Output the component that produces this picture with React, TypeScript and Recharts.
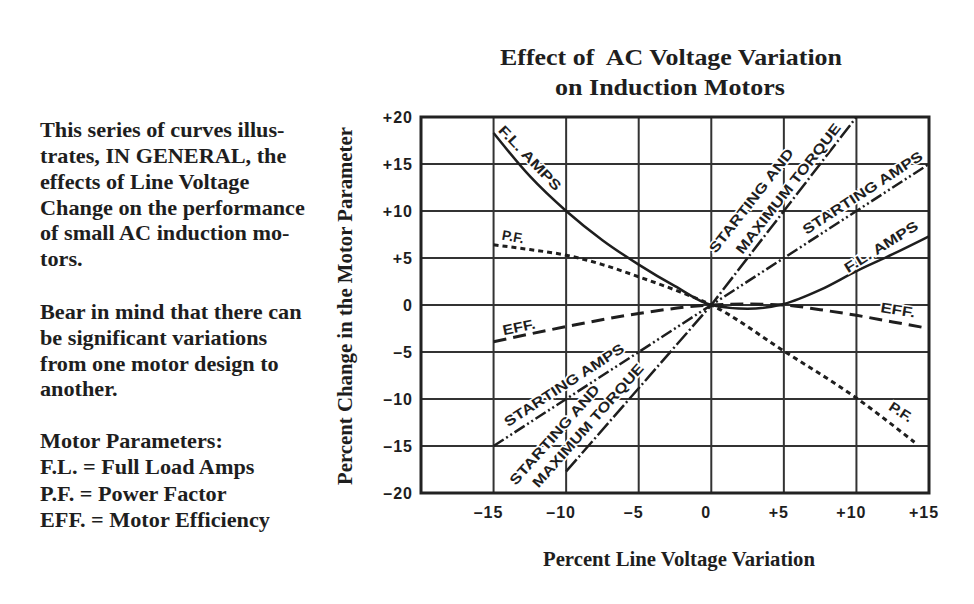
import React from "react";
import {
  LineChart,
  Line,
  XAxis,
  YAxis,
  CartesianGrid,
  ReferenceArea,
  ReferenceDot,
} from "recharts";

// axis ticks
const xTickValues = [-20, -15, -10, -5, 0, 5, 10, 15];
const xTickLabels = ["", "–15", "–10", "–5", "0", "+5", "+10", "+15"];
const yTickValues = [-20, -15, -10, -5, 0, 5, 10, 15, 20];
const yTickLabels = ["–20", "–15", "–10", "–5", "0", "+5", "+10", "+15", "+20"];

// curves: percent line voltage variation -> percent change in parameter
const flAmpsVolts = [-15, -12.5, -10, -7.5, -5, -2.5, 0, 2.5, 5, 7.5, 10, 12.5, 15];
const flAmpsChange = [18.3, 13.7, 10, 6.9, 4.3, 2.0, 0, -0.4, 0.1, 1.6, 3.6, 5.4, 7.3];

const pfVolts = [-15, -12.5, -10, -7.5, -5, -2.5, 0, 5, 10, 14];
const pfChange = [6.4, 5.9, 5.3, 4.3, 3.0, 1.6, 0, -4.9, -9.9, -14.6];

const effVolts = [-15, -10, -5, 0, 2.5, 5, 7.5, 10, 12.5, 15];
const effChange = [-3.9, -2.3, -0.9, 0, 0.1, 0, -0.5, -1.1, -1.8, -2.5];

const startAmpsVolts = [-15, 0, 15];
const startAmpsChange = [-15, 0, 15];

const torqueVolts = [-10, 0, 10];
const torqueChange = [-17.7, 0, 20];

// text blocks
const titleLines = ["Effect of  AC Voltage Variation", "on Induction Motors"];
const introLines = [
  "This series of curves illus-",
  "trates, IN GENERAL, the",
  "effects of Line Voltage",
  "Change on the performance",
  "of small AC induction mo-",
  "tors.",
];
const cautionLines = [
  "Bear in mind that there can",
  "be significant variations",
  "from one motor design to",
  "another.",
];
const paramLines = [
  "Motor Parameters:",
  "F.L. = Full Load Amps",
  "P.F. = Power Factor",
  "EFF. = Motor Efficiency",
];

// labels written along the curves (placed in data units)
const curveLabels = [
  { x: -12.49, y: 15.64, text: "F.L. AMPS", angle: 46.5, len: 84 },
  { x: -13.66, y: 7.27, text: "P.F.", angle: 10, len: 22 },
  { x: -13.25, y: -2.34, text: "EFF.", angle: -12, len: 33 },
  { x: -10.15, y: -8.5, text: "STARTING AMPS", angle: -33, len: 140 },
  { x: -10.8, y: -13.8, text: "STARTING AND", angle: -48.5, len: 128 },
  { x: -8.5, y: -12.8, text: "MAXIMUM TORQUE", angle: -48.5, len: 160 },
  { x: 2.75, y: 11.1, text: "STARTING AND", angle: -52, len: 128 },
  { x: 5.3, y: 12.4, text: "MAXIMUM TORQUE", angle: -52, len: 161 },
  { x: 10.42, y: 11.95, text: "STARTING AMPS", angle: -33, len: 140 },
  { x: 11.7, y: 6.2, text: "F.L. AMPS", angle: -32, len: 84 },
  { x: 12.86, y: -0.53, text: "EFF.", angle: 9, len: 35 },
  { x: 13.07, y: -11.38, text: "P.F.", angle: 33, len: 25 },
];

const toPoints = (xs: number[], ys: number[]) => xs.map((x, i) => ({ x, y: ys[i] }));

const INK = "#1e1e1e";
const SERIF = '"Liberation Serif", "Times New Roman", serif';
const SANS = '"Liberation Sans", Arial, sans-serif';

const XTick = (props: any) => {
  const { x, y, payload } = props;
  const label = xTickLabels[xTickValues.indexOf(payload.value)] ?? "";
  return (
    <text x={x - 5} y={y} dy="0.35em" textAnchor="middle" fill={INK}
      fontFamily={SANS} fontWeight={700} fontSize={16} style={{ letterSpacing: 1 }}>
      {label}
    </text>
  );
};

const YTick = (props: any) => {
  const { x, y, payload } = props;
  const label = yTickLabels[yTickValues.indexOf(payload.value)] ?? "";
  return (
    <text x={x} y={y} dy="0.36em" textAnchor="end" fill={INK}
      fontFamily={SANS} fontWeight={700} fontSize={16} style={{ letterSpacing: 1 }}>
      {label}
    </text>
  );
};

const curveLabel = (text: string, angle: number, len: number) => (props: any) => {
  const { cx, cy } = props;
  return (
    <text x={cx} y={cy} dy="0.35em" textAnchor="middle" fill={INK}
      transform={`rotate(${angle} ${cx} ${cy})`}
      textLength={len} lengthAdjust="spacingAndGlyphs"
      fontFamily={SANS} fontWeight={700} fontSize={14}
      stroke="#fff" strokeWidth={3} paintOrder="stroke">
      {text}
    </text>
  );
};

export default function App() {
  const textStyle = { fontFamily: SERIF, fontWeight: 700, fill: INK } as const;

  return (
    <div style={{ position: "absolute", left: 0, top: 0, width: 974, height: 604, background: "#fff" }}>
      <LineChart width={974} height={604} margin={{ top: 117, right: 45, bottom: 71, left: 361 }}>
        <CartesianGrid stroke="#333" strokeWidth={2} />
        <XAxis
          dataKey="x"
          type="number"
          domain={[-20, 15]}
          ticks={xTickValues}
          allowDataOverflow
          axisLine={false}
          tickLine={false}
          tickSize={0}
          tickMargin={19}
          height={40}
          tick={<XTick />}
        />
        <YAxis
          type="number"
          domain={[-20, 20]}
          ticks={yTickValues}
          allowDataOverflow
          axisLine={false}
          tickLine={false}
          tickSize={0}
          tickMargin={8}
          width={60}
          tick={<YTick />}
        />
        <ReferenceArea x1={-20} x2={15} y1={-20} y2={20} fill="none" stroke="#222" strokeWidth={3} />
        <Line data={toPoints(flAmpsVolts, flAmpsChange)} dataKey="y" type="monotone"
          stroke={INK} strokeWidth={2.5} dot={false} isAnimationActive={false} />
        <Line data={toPoints(pfVolts, pfChange)} dataKey="y" type="monotone"
          stroke={INK} strokeWidth={3} strokeDasharray="5 4" dot={false} isAnimationActive={false} />
        <Line data={toPoints(effVolts, effChange)} dataKey="y" type="monotone"
          stroke={INK} strokeWidth={3} strokeDasharray="13 7" dot={false} isAnimationActive={false} />
        <Line data={toPoints(startAmpsVolts, startAmpsChange)} dataKey="y" type="linear"
          stroke={INK} strokeWidth={2.5} strokeDasharray="12 3 2 3 2 3" dot={false} isAnimationActive={false} />
        <Line data={toPoints(torqueVolts, torqueChange)} dataKey="y" type="linear"
          stroke={INK} strokeWidth={2.5} strokeDasharray="16 3 2 3" dot={false} isAnimationActive={false} />
        {curveLabels.map((l, i) => (
          <ReferenceDot key={i} x={l.x} y={l.y} r={4}
            shape={curveLabel(l.text, l.angle, l.len)} />
        ))}
      </LineChart>

      <svg width={974} height={604} style={{ position: "absolute", left: 0, top: 0, pointerEvents: "none" }}>
        <text x={671} y={65} textAnchor="middle" fontSize={23.5} textLength={342}
          lengthAdjust="spacingAndGlyphs" style={{ ...textStyle, whiteSpace: "pre" }}>
          {titleLines[0]}
        </text>
        <text x={670} y={95} textAnchor="middle" fontSize={23.5} textLength={230}
          lengthAdjust="spacingAndGlyphs" style={textStyle}>
          {titleLines[1]}
        </text>

        <g transform="translate(40 0) scale(1.085 1)" style={textStyle} fontSize={20.5}>
          {introLines.map((t, i) => (
            <text key={"a" + i} x={0} y={137.5 + i * 25.7} style={textStyle}>{t}</text>
          ))}
          {cautionLines.map((t, i) => (
            <text key={"b" + i} x={0} y={319.5 + i * 25.6} style={textStyle}>{t}</text>
          ))}
          {paramLines.map((t, i) => (
            <text key={"c" + i} x={0} y={448 + i * 26.5} style={textStyle}>{t}</text>
          ))}
        </g>

        <text x={679} y={566} textAnchor="middle" fontSize={20} textLength={272}
          lengthAdjust="spacingAndGlyphs" style={textStyle}>
          Percent Line Voltage Variation
        </text>
        <text x={352} y={306} textAnchor="middle" fontSize={20} textLength={358}
          lengthAdjust="spacingAndGlyphs" transform="rotate(-90 352 306)" style={textStyle}>
          Percent Change in the Motor Parameter
        </text>
      </svg>
    </div>
  );
}
